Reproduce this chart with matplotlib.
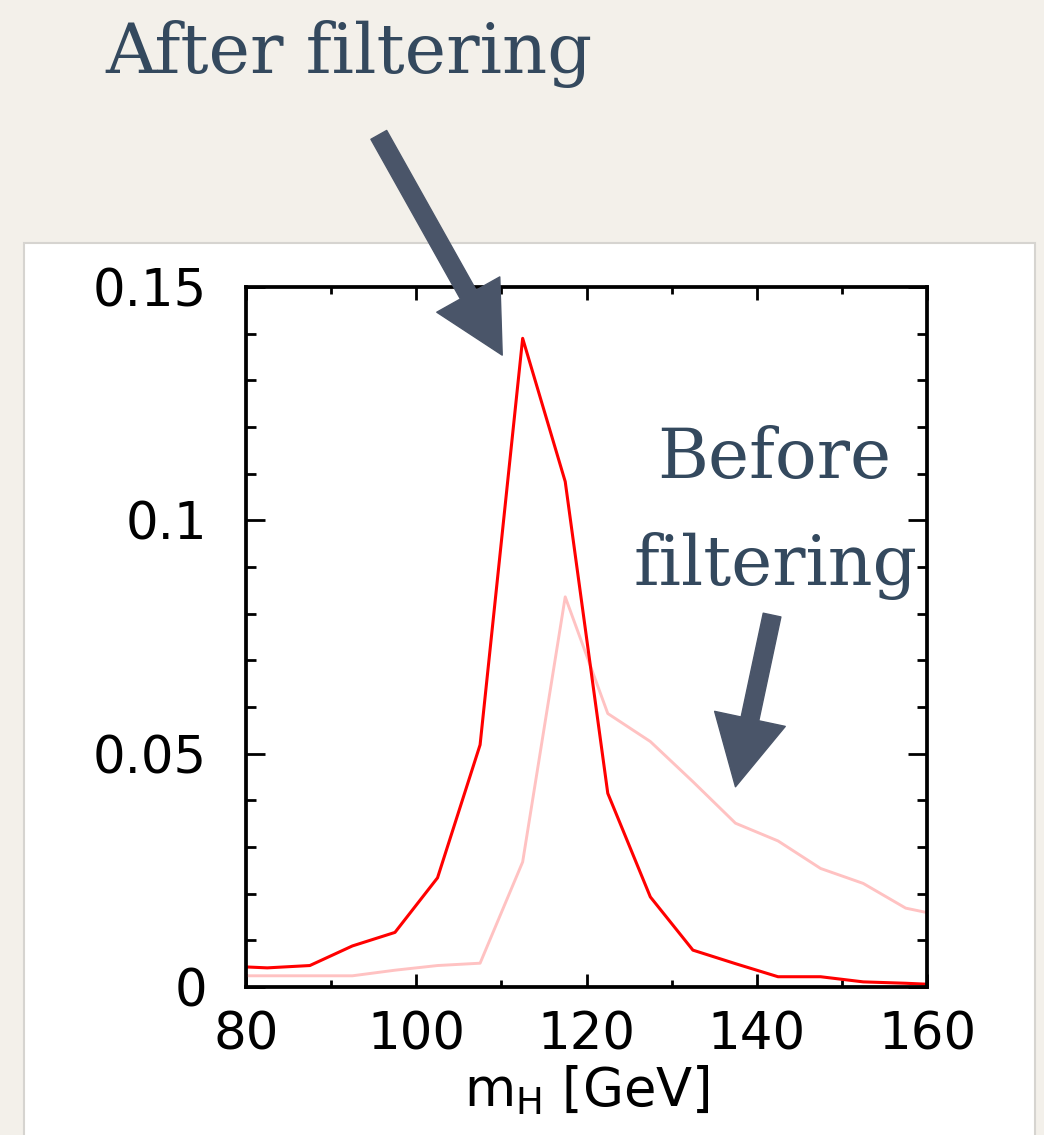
import numpy as np
import matplotlib.pyplot as plt
from matplotlib.patches import Rectangle
from matplotlib.ticker import MultipleLocator

# bin centres [GeV] and normalised distributions
mass = [77.5, 82.5, 87.5, 92.5, 97.5, 102.5, 107.5, 112.5, 117.5, 122.5,
        127.5, 132.5, 137.5, 142.5, 147.5, 152.5, 157.5, 162.5]
after = [0.0045, 0.0041, 0.0046, 0.0088, 0.0117, 0.0234, 0.0519, 0.139, 0.1083, 0.0415,
         0.0193, 0.0079, 0.0050, 0.0022, 0.0022, 0.0011, 0.0008, 0.0004]
before = [0.0024, 0.0024, 0.0024, 0.0024, 0.0036, 0.0046, 0.0051, 0.0268, 0.0836, 0.0586,
          0.0526, 0.0440, 0.0351, 0.0313, 0.0254, 0.0222, 0.0169, 0.0150]

xticks = [80, 100, 120, 140, 160]
yticks = [0, 0.05, 0.1, 0.15]
yticklabels = ['0', '0.05', '0.1', '0.15']

note_col = '#34495e'
arrow_col = '#4a5569'

fig = plt.figure(figsize=(10.44, 11.35), dpi=100)
fig.patch.set_facecolor('#f3f0ea')

# white slide panel behind the plot
panel = Rectangle((24 / 1044, -0.01), (1035 - 24) / 1044, 1.01 - 243 / 1135,
                  transform=fig.transFigure, facecolor='white',
                  edgecolor='#d6d4d0', linewidth=1.5, zorder=0)
fig.add_artist(panel)

ax = fig.add_axes([246 / 1044, 148 / 1135, 681 / 1044, 700 / 1135])
ax.set_facecolor('none')

ax.plot(mass, before, color='#ffc2c2', linewidth=2.1)
ax.plot(mass, after, color='#ff0000', linewidth=2.2)

ax.set_xlim(80, 160)
ax.set_ylim(0, 0.15)
ax.set_xticks(xticks)
ax.set_yticks(yticks)
ax.set_yticklabels(yticklabels)
ax.xaxis.set_minor_locator(MultipleLocator(10))
ax.yaxis.set_minor_locator(MultipleLocator(0.01))

ax.tick_params(which='both', direction='in', top=True, right=True,
               width=2.0, labelsize=37)
ax.tick_params(axis='x', which='major', length=9.5, pad=17)
ax.tick_params(axis='x', which='minor', length=5)
ax.tick_params(axis='y', which='major', length=14, pad=28)
ax.tick_params(axis='y', which='minor', length=7)
for s in ax.spines.values():
    s.set_linewidth(2.7)

ax.set_xlabel(r'm$_{\mathregular{H}}$ [GeV]', fontsize=38, labelpad=2)

# annotations
fig.text(105 / 1044, 1 - 73 / 1135, 'After filtering', family='DejaVu Serif',
         fontsize=50.5, color=note_col, ha='left', va='baseline')
fig.text(774 / 1044, 1 - 478 / 1135, 'Before', family='DejaVu Serif',
         fontsize=50, color=note_col, ha='center', va='baseline')
fig.text(775 / 1044, 1 - 585 / 1135, 'filtering', family='DejaVu Serif',
         fontsize=50, color=note_col, ha='center', va='baseline')

style = 'simple,head_width=52,head_length=50,tail_width=13'
ax.annotate('', xy=(110.1, 0.1354), xytext=(95.6, 0.1826),
            annotation_clip=False,
            arrowprops=dict(arrowstyle=style, color=arrow_col,
                            shrinkA=0, shrinkB=0, mutation_scale=1))
ax.annotate('', xy=(137.5, 0.0429), xytext=(141.8, 0.0797),
            annotation_clip=False,
            arrowprops=dict(arrowstyle=style, color=arrow_col,
                            shrinkA=0, shrinkB=0, mutation_scale=1))

fig.savefig('out.png', dpi=100, facecolor=fig.get_facecolor())
